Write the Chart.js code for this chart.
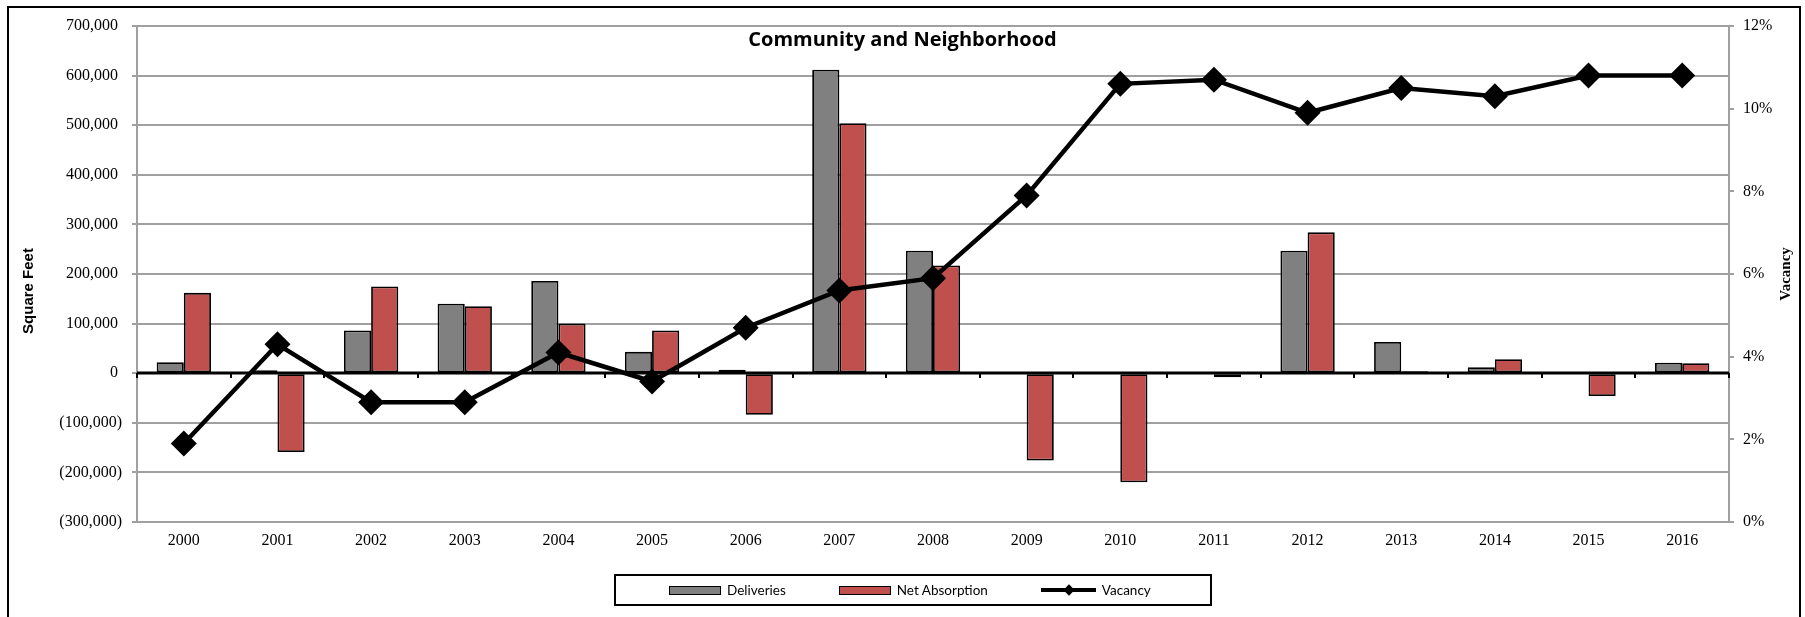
<!DOCTYPE html>
<html>
<head>
<meta charset="utf-8">
<script src="https://cdn.jsdelivr.net/npm/chart.js@4.4.1/dist/chart.umd.min.js"></script>
<style>
  html, body { margin: 0; padding: 0; background: #fff; width: 1805px; height: 617px; overflow: hidden; }
  #frame { position: absolute; left: 7px; top: 6px; width: 1794px; height: 700px; border: 2px solid #000; box-sizing: border-box; }
  #chart { position: absolute; left: 0; top: 0; }
  #legend { position: absolute; left: 614px; top: 574px; width: 598px; height: 32px; border: 2px solid #000; box-sizing: border-box;
            display: flex; align-items: center; padding-left: 53px; gap: 53px; font: 13.5px Lato, sans-serif; color: #000; }
  .item { display: flex; align-items: center; gap: 6px; }
  .box { width: 52px; height: 9px; border: 1.5px solid #000; box-sizing: border-box; }
  .ln { position: relative; width: 55px; height: 4px; background: #000; }
  .ln i { position: absolute; left: 24px; top: -2px; width: 8px; height: 8px; background: #000; transform: rotate(45deg); }
</style>
</head>
<body>
<div id="frame"></div>
<canvas id="chart" width="1805" height="617"></canvas>
<div id="legend"></div>
<script>
// Community and Neighborhood - deliveries, net absorption (sq ft) and vacancy
const years = ['2000', '2001', '2002', '2003', '2004', '2005', '2006', '2007', '2008',
               '2009', '2010', '2011', '2012', '2013', '2014', '2015', '2016'];
const deliveries = [22000, 6000, 86000, 140000, 186000, 43000, 7000, 612000, 247000,
                    0, 0, 0, 247000, 63000, 12000, 0, 21000];
const netAbsorption = [162000, -159000, 175000, 135000, 100000, 86000, -84000, 504000, 217000,
                       -176000, -220000, -8000, 284000, 4000, 28000, -46000, 20000];
const vacancy = [0.019, 0.043, 0.029, 0.029, 0.041, 0.034, 0.047, 0.056, 0.059,
                 0.079, 0.106, 0.107, 0.099, 0.105, 0.103, 0.108, 0.108];
const sqftTicks = [-300000, -200000, -100000, 0, 100000, 200000, 300000, 400000, 500000, 600000, 700000];
const vacancyTicks = [0, 0.02, 0.04, 0.06, 0.08, 0.10, 0.12];

const gridGray = '#a0a0a0';
const tickFont = { family: 'Liberation Serif', size: 16 };

function fmtSqft(v) {
    const s = Math.abs(v).toLocaleString('en-US');
    return v < 0 ? '(' + s + ')' : s + ' ';
}

function rotatedText(ctx, text, x, y, font) {
    ctx.save();
    ctx.translate(x, y);
    ctx.rotate(-Math.PI / 2);
    ctx.font = font;
    ctx.fillStyle = '#000';
    ctx.textAlign = 'center';
    ctx.textBaseline = 'middle';
    ctx.fillText(text, 0, 0);
    ctx.restore();
}

// zero line with its small category ticks, drawn over the bars but under the vacancy line
const axisLine = {
    id: 'axisLine',
    beforeDatasetDraw(chart, args) {
        if (args.meta.type !== 'line') return;
        const { ctx, chartArea, scales } = chart;
        const y0 = Math.round(scales.y.getPixelForValue(0));
        ctx.save();
        ctx.strokeStyle = '#000';
        ctx.lineWidth = 3;
        ctx.beginPath();
        ctx.moveTo(chartArea.left, y0);
        ctx.lineTo(chartArea.right, y0);
        ctx.stroke();
        const n = years.length;
        const step = (chartArea.right - chartArea.left) / n;
        ctx.lineWidth = 2;
        for (let i = 0; i <= n; i++) {
            const x = Math.round(chartArea.left + i * step);
            ctx.beginPath();
            ctx.moveTo(x, y0);
            ctx.lineTo(x, y0 + 5);
            ctx.stroke();
        }
        ctx.restore();
    },
    afterDraw(chart) {
        // axis titles, both reading bottom to top as in the original
        const { ctx, chartArea } = chart;
        const sc = chart.options.scales;
        rotatedText(ctx, sc.y.title.text, 28.5, 291, 'bold 15px "Liberation Sans"');
        rotatedText(ctx, sc.y1.title.text, 1786, (chartArea.top + chartArea.bottom) / 2, 'bold 15px "Liberation Serif"');
    }
};

function draw() {
    const ctx = document.getElementById('chart').getContext('2d');
    const chart = new Chart(ctx, {
        type: 'bar',
        data: {
            labels: years,
            datasets: [{
                label: 'Deliveries',
                data: deliveries,
                backgroundColor: '#808080',
                borderColor: '#000',
                borderWidth: 1.8,
                borderSkipped: false,
                yAxisID: 'y',
                order: 1
            }, {
                label: 'Net Absorption',
                data: netAbsorption,
                backgroundColor: '#C0504D',
                borderColor: '#000',
                borderWidth: 1.8,
                borderSkipped: false,
                yAxisID: 'y',
                order: 1
            }, {
                type: 'line',
                label: 'Vacancy',
                data: vacancy,
                borderColor: '#000',
                backgroundColor: '#000',
                borderWidth: 4.5,
                pointStyle: 'rectRot',
                pointRadius: 13,
                pointBorderWidth: 0,
                tension: 0,
                yAxisID: 'y1',
                order: 0
            }]
        },
        options: {
            responsive: false,
            animation: false,
            devicePixelRatio: 1,
            categoryPercentage: 0.58,
            barPercentage: 1,
            layout: { padding: { top: 26, left: 0, right: 0, bottom: 0 } },
            plugins: {
                legend: { display: false },
                tooltip: { enabled: false },
                title: {
                    display: true,
                    text: 'Community and Neighborhood',
                    color: '#000',
                    font: { family: 'Open Sans', weight: 'bold', size: 20 },
                    padding: { top: 2, bottom: -26 }
                }
            },
            scales: {
                x: {
                    grid: { display: false, drawTicks: false },
                    border: { display: false },
                    ticks: { color: '#000', font: tickFont, padding: 9, maxRotation: 0 },
                    afterFit(scale) { scale.height = 95; }
                },
                y: {
                    position: 'left',
                    min: sqftTicks[0],
                    max: sqftTicks[sqftTicks.length - 1],
                    grid: { color: gridGray, lineWidth: 2, tickLength: 5 },
                    border: { display: true, color: gridGray, width: 2 },
                    ticks: {
                        stepSize: sqftTicks[1] - sqftTicks[0],
                        color: '#000',
                        font: tickFont,
                        padding: 10,
                        callback: v => fmtSqft(v)
                    },
                    title: { display: false, text: 'Square Feet' },
                    afterFit(scale) { scale.width = 137; }
                },
                y1: {
                    position: 'right',
                    min: vacancyTicks[0],
                    max: vacancyTicks[vacancyTicks.length - 1],
                    grid: { drawOnChartArea: false, color: gridGray, lineWidth: 2, tickLength: 5 },
                    border: { display: true, color: gridGray, width: 2 },
                    ticks: {
                        stepSize: vacancyTicks[1] - vacancyTicks[0],
                        color: '#000',
                        font: tickFont,
                        padding: 9,
                        callback: v => Math.round(v * 100) + '%'
                    },
                    title: { display: false, text: 'Vacancy' },
                    afterFit(scale) { scale.width = 76; }
                }
            }
        },
        plugins: [axisLine]
    });

    // legend built from the datasets
    const legend = document.getElementById('legend');
    chart.data.datasets.forEach(ds => {
        const item = document.createElement('div');
        item.className = 'item';
        const sw = document.createElement('div');
        if (ds.type === 'line') {
            sw.className = 'ln';
            sw.appendChild(document.createElement('i'));
        } else {
            sw.className = 'box';
            sw.style.background = ds.backgroundColor;
        }
        const txt = document.createElement('span');
        txt.textContent = ds.label;
        item.appendChild(sw);
        item.appendChild(txt);
        legend.appendChild(item);
    });
}

Promise.all([
    document.fonts.load('bold 20px "Open Sans"'),
    document.fonts.load('13.5px Lato'),
    document.fonts.load('16px "Liberation Serif"'),
    document.fonts.load('bold 15px "Liberation Serif"'),
    document.fonts.load('bold 15px "Liberation Sans"')
]).then(draw, draw);
</script>
</body>
</html>
